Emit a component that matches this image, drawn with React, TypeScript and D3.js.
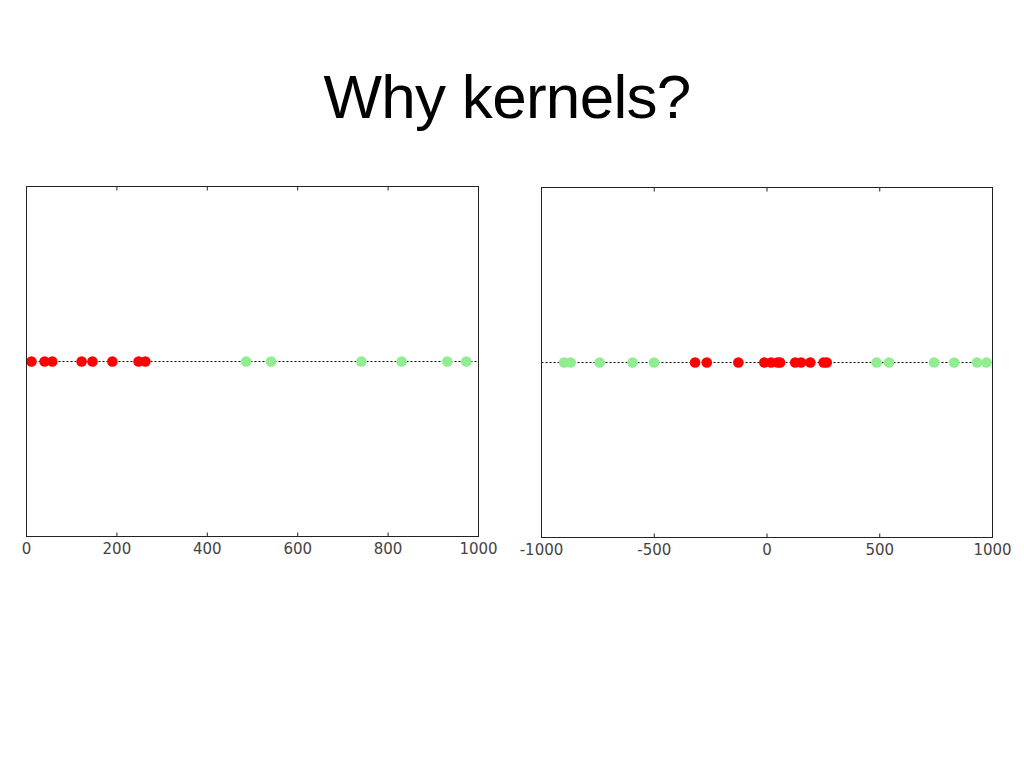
import React from "react";
import * as d3 from "d3";

const title = "Why kernels?";
const leftRed = [11, 40, 57, 122, 146, 190, 248, 263];
const leftGreen = [486, 541, 741, 830, 931, 973];
const leftTicks = [0, 200, 400, 600, 800, 1000];
const rightRed = [-319, -267, -127, -12, 18, 47, 58, 125, 151, 192, 251, 265];
const rightGreen = [-900, -871, -742, -596, -501, 486, 541, 741, 830, 931, 973];
const rightTicks = [-1000, -500, 0, 500, 1000];

type PanelProps = {
  x0: number; x1: number; y0: number; y1: number;
  domain: [number, number]; ticks: number[]; red: number[]; green: number[];
};

function Panel({ x0, x1, y0, y1, domain, ticks, red, green }: PanelProps) {
  const x = d3.scaleLinear().domain(domain).range([x0, x1]);
  const yc = (y0 + y1) / 2;
  const r = 5.3;
  return (
    <g>
      <line x1={x0} x2={x1} y1={yc} y2={yc} stroke="#000" strokeWidth={1} strokeDasharray="2,2" />
      {green.map((v, i) => (
        <circle key={"g" + i} cx={x(v)} cy={yc} r={r} fill="#90ee90" />
      ))}
      {red.map((v, i) => (
        <circle key={"r" + i} cx={x(v)} cy={yc} r={r} fill="#ff0000" />
      ))}
      <rect x={x0} y={y0} width={x1 - x0} height={y1 - y0} fill="none" stroke="#222" strokeWidth={1} />
      {ticks.map((t, i) => (
        <g key={"t" + i}>
          <line x1={x(t)} x2={x(t)} y1={y1} y2={y1 - 4} stroke="#222" strokeWidth={1} />
          <line x1={x(t)} x2={x(t)} y1={y0} y2={y0 + 4} stroke="#222" strokeWidth={1} />
          <text x={x(t)} y={y1 + 17} textAnchor="middle" fontFamily="DejaVu Sans" fontSize={15} fill="#444">
            {String(t)}
          </text>
        </g>
      ))}
    </g>
  );
}

export default function App() {
  return (
    <svg width={1024} height={768} style={{ position: "absolute", left: 0, top: 0, background: "#fff" }}>
      <rect x={0} y={0} width={1024} height={768} fill="#fff" />
      <text x={507} y={118} textAnchor="middle" fontFamily="Liberation Sans, Arial" fontSize={62} letterSpacing={-0.7} fill="#000">
        {title}
      </text>
      <Panel x0={26.5} x1={478.5} y0={186.5} y1={536.5} domain={[0, 1000]} ticks={leftTicks} red={leftRed} green={leftGreen} />
      <Panel x0={541.5} x1={992.5} y0={187.5} y1={537.5} domain={[-1000, 1000]} ticks={rightTicks} red={rightRed} green={rightGreen} />
    </svg>
  );
}
